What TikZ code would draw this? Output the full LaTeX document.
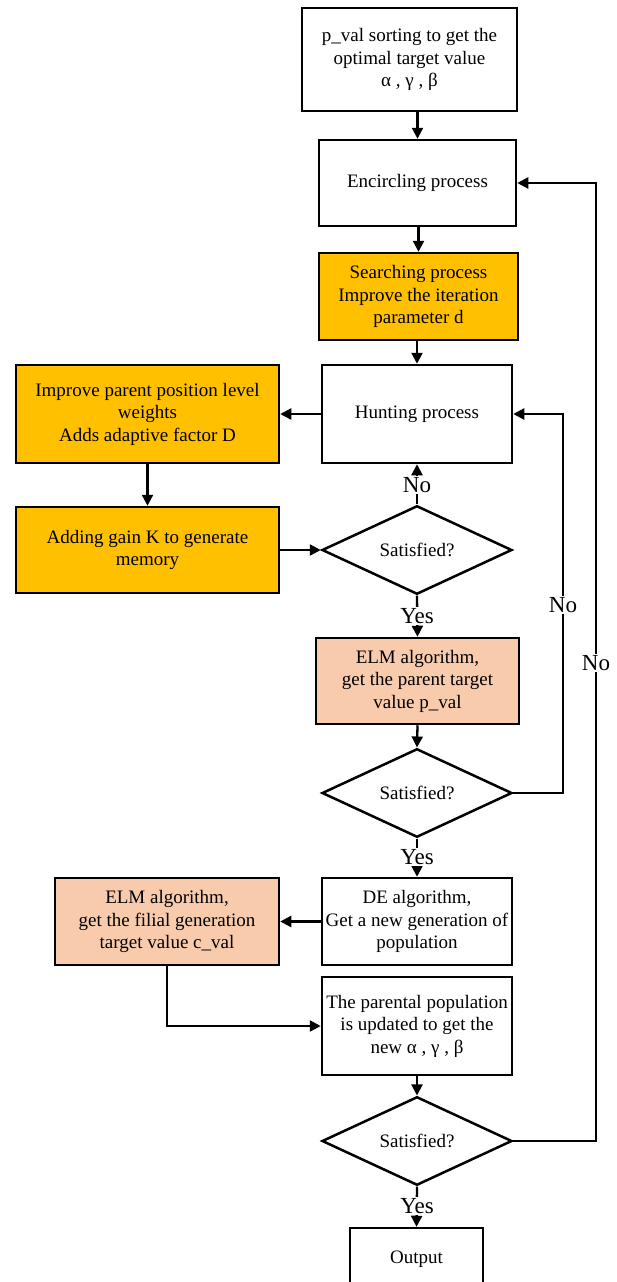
\documentclass[tikz,border=0pt]{standalone}
\usepackage{fontspec}
\setmainfont{Liberation Serif}
\usetikzlibrary{shapes.geometric,arrows.meta}
\definecolor{orangebox}{HTML}{FFC000}
\definecolor{peachbox}{HTML}{F8CBAD}
\begin{document}
\begin{tikzpicture}[x=1pt,y=-1pt,
  box/.style={draw, line width=2.5pt, align=center, inner sep=0pt, font=\fontsize{19}{22.5}\selectfont},
  dia/.style={diamond, draw, line width=2.5pt, inner sep=0pt, minimum width=190pt, minimum height=87pt, font=\fontsize{19}{22.5}\selectfont},
  arr/.style={line width=2.3pt, -{Triangle[length=11pt,width=11pt]}},
  lbl/.style={fill=white, inner sep=1.5pt, font=\fontsize{23}{23}\selectfont}]
\useasboundingbox (0,0) rectangle (616,1282);

\node[box, minimum width=215pt, minimum height=103pt] (init) at (409.5,59.5) {p\_val sorting to get the\\optimal target value\\α , γ , β};
\node[box, minimum width=197pt, minimum height=86pt] (enc) at (417.5,183) {Encircling process};
\node[box, fill=orangebox, minimum width=199pt, minimum height=87pt] (search) at (418.5,296.5) {Searching process\\Improve the iteration\\parameter d};
\node[box, minimum width=190pt, minimum height=98pt] (hunt) at (417,414) {Hunting process};
\node[box, fill=orangebox, minimum width=263pt, minimum height=98pt] (improve) at (147.5,414) {Improve parent position level\\weights\\Adds adaptive factor D};
\node[box, fill=orangebox, minimum width=263pt, minimum height=86pt] (gain) at (147.5,550) {Adding gain K to generate\\memory};
\node[dia] (d1) at (417,550) {Satisfied?};
\node[box, fill=peachbox, minimum width=203pt, minimum height=86pt] (elm1) at (417.5,681) {ELM algorithm,\\get the parent target\\value p\_val};
\node[dia] (d2) at (417,793) {Satisfied?};
\node[box, minimum width=190pt, minimum height=87pt] (de) at (417,921.5) {DE algorithm,\\Get a new generation of\\population};
\node[box, fill=peachbox, minimum width=224pt, minimum height=87pt] (elm2) at (167,921.5) {ELM algorithm,\\get the filial generation\\target value c\_val};
\node[box, minimum width=190pt, minimum height=98pt] (par) at (417,1026) {The parental population\\is updated to get the\\new α , γ , β};
\node[dia] (d3) at (417,1141) {Satisfied?};
\node[box, minimum width=133pt, minimum height=62pt] (out) at (416.5,1259) {Output};

\coordinate (r1) at (563,0);
\coordinate (r2) at (596,0);

\draw[arr] (init.south -| enc.north) -- (enc.north);
\draw[arr] (enc.south -| search.north) -- (search.north);
\draw[arr] (search.south -| hunt.north) -- (hunt.north);
\draw[arr] (hunt.west) -- (improve.east);
\draw[arr] (improve.south) -- (gain.north);
\draw[arr] (gain.east) -- (d1.west);
\draw[arr] (d1.north) -- (hunt.south);
\node[lbl] (no1) at (417,485) {No};
\draw[arr] (d1.south) -- (elm1.north);
\node[lbl] (yes1) at (417,616) {Yes};
\draw[arr] (elm1.south) -- (d2.north);
\draw[arr] (d2.east) -- (d2.east -| r1) -- (hunt.east -| r1) -- (hunt.east);
\node[lbl] (no2) at (563,605) {No};
\draw[arr] (d2.south) -- (de.north);
\node[lbl] (yes2) at (417,857) {Yes};
\draw[arr] (de.west) -- (elm2.east);
\draw[arr] (elm2.south) |- (par.west);
\draw[arr] (par.south) -- (d3.north);
\draw[arr] (d3.east) -- (d3.east -| r2) -- (enc.east -| r2) -- (enc.east);
\node[lbl] (no3) at (596,663) {No};
\draw[arr] (d3.south) -- (out.north);
\node[lbl] (yes3) at (417,1206) {Yes};
\end{tikzpicture}
\end{document}
